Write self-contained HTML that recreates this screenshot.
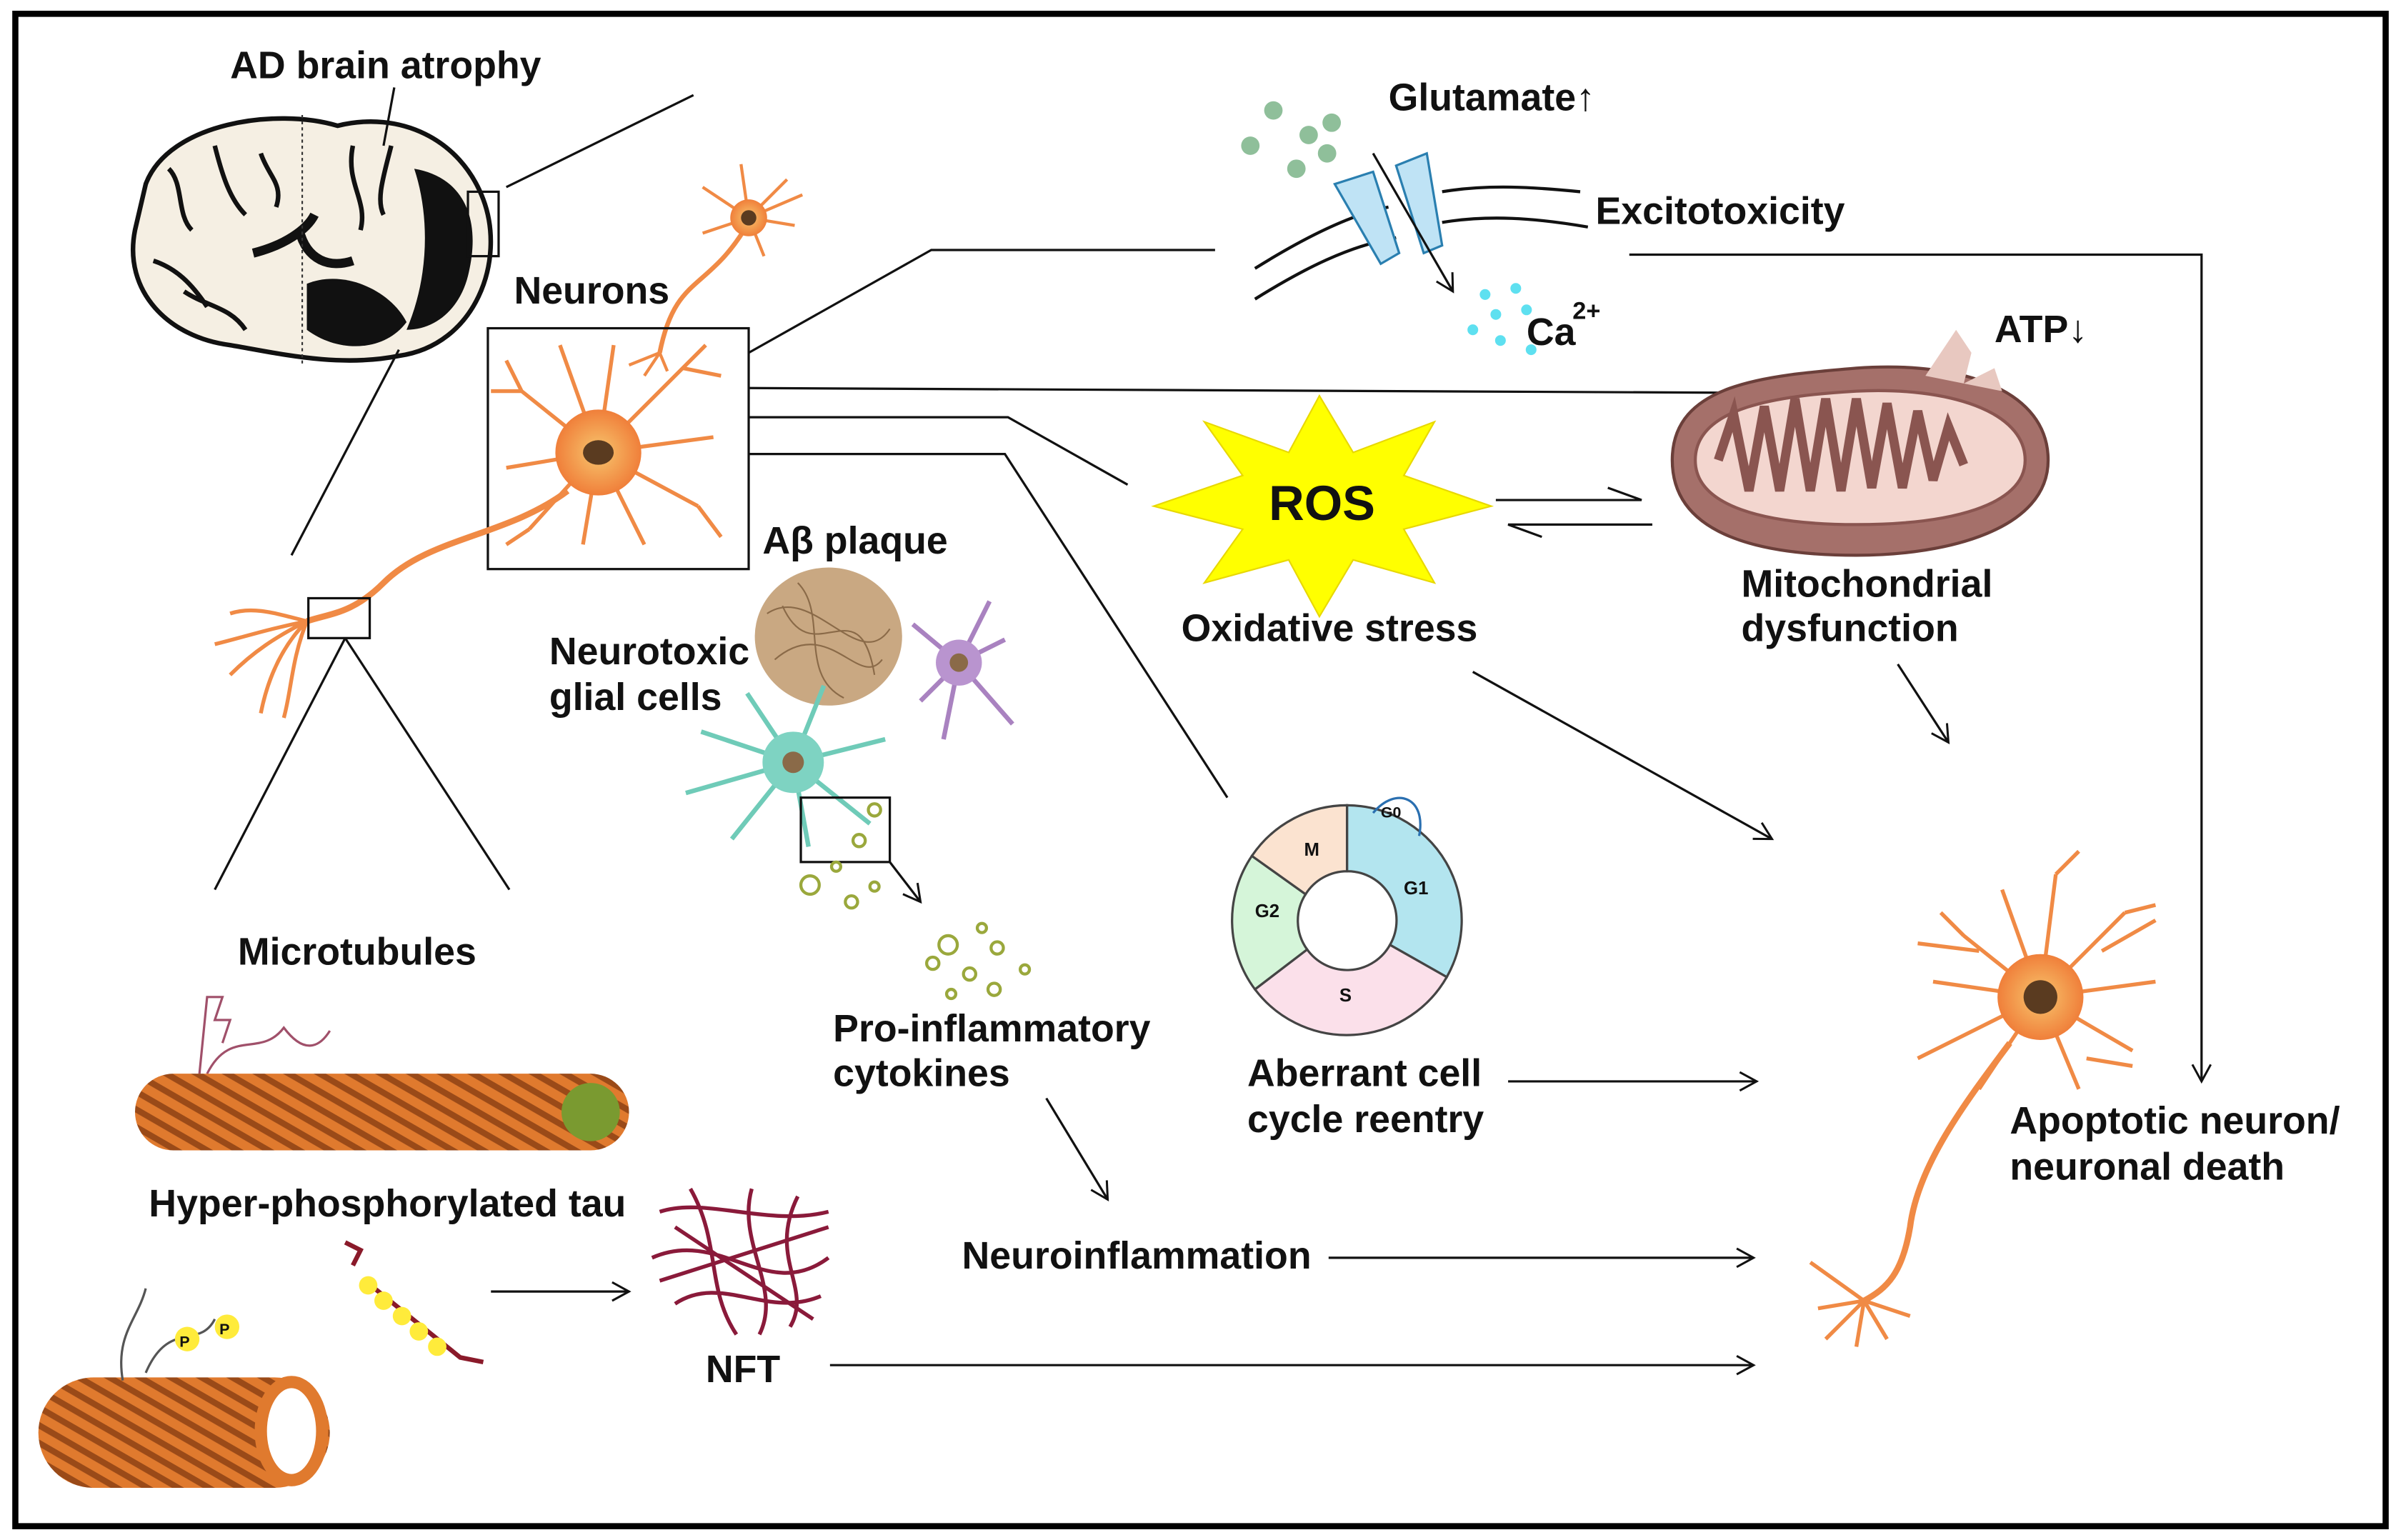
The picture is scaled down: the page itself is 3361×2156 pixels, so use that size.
<!DOCTYPE html>
<html><head><meta charset="utf-8"><style>
html,body{margin:0;padding:0;background:#fff;}
svg{display:block;}
text{font-family:"Liberation Sans",sans-serif;font-weight:bold;fill:#111;}
</style></head><body>
<svg width="3361" height="2156" viewBox="0 0 1565 1004" preserveAspectRatio="none" xmlns="http://www.w3.org/2000/svg">
<defs>
<marker id="ar" markerWidth="14" markerHeight="14" refX="12" refY="7" orient="auto" markerUnits="userSpaceOnUse">
<path d="M1,1 L12,7 L1,13" fill="none" stroke="#111" stroke-width="1.4"/></marker>
<pattern id="mt" width="10" height="10" patternUnits="userSpaceOnUse" patternTransform="rotate(30)">
<rect width="10" height="10" fill="#e07a2e"/><rect width="10" height="4" fill="#9a4a18"/></pattern>
<radialGradient id="soma"><stop offset="0" stop-color="#f7c66e"/><stop offset="1" stop-color="#f07f3a"/></radialGradient>
</defs>
<rect x="10" y="9" width="1545" height="986" fill="#fff" stroke="#000" stroke-width="4"/>

<!-- brain -->
<path d="M95,120 C110,80 180,70 220,82 C260,72 300,90 315,130 C330,170 310,225 260,232 C220,240 180,230 150,225 C110,220 80,190 88,150 Z" fill="#f5efe3" stroke="#111" stroke-width="3"/>
<path d="M195,150 C200,170 215,175 230,170 M165,165 C185,160 200,150 205,140" stroke="#111" stroke-width="6" fill="none"/>
<path d="M200,185 C225,175 255,190 265,210 C250,230 220,230 200,215 Z" fill="#111"/>
<path d="M270,110 C300,115 315,140 305,180 C300,200 285,215 265,215 C280,180 280,140 270,110Z" fill="#111"/>
<path d="M110,110 C120,120 115,140 125,150 M140,95 C145,115 150,130 160,140 M100,170 C115,175 125,185 135,200 M255,95 C250,115 245,130 250,140 M230,95 C225,120 240,130 235,150 M120,190 C135,200 150,200 160,215 M170,100 C175,115 185,120 180,135" stroke="#111" stroke-width="3" fill="none"/>
<line x1="197" y1="75" x2="197" y2="238" stroke="#333" stroke-dasharray="2,2"/>
<rect x="305" y="125" width="20" height="42" fill="none" stroke="#111" stroke-width="1.5"/>
<text x="150" y="51" font-size="25">AD brain atrophy</text>
<line x1="257" y1="57" x2="250" y2="95" stroke="#111" stroke-width="1.5"/>
<line x1="330" y1="122" x2="452" y2="62" stroke="#111" stroke-width="1.5"/>
<line x1="260" y1="228" x2="190" y2="362" stroke="#111" stroke-width="1.5"/>

<!-- small neuron top -->
<g stroke="#f08a45" stroke-width="2" fill="none">
<path d="M488,142 l-30,-20 M488,142 l25,-25 M488,142 l30,5 M488,142 l-30,10 M488,142 l10,25 M488,142 l-5,-35 M488,142 l35,-15"/>
<path d="M485,150 C460,190 440,180 430,230" stroke-width="3"/>
<path d="M430,230 l-20,8 M430,230 l5,12 M430,230 l-10,15"/>
</g>
<circle cx="488" cy="142" r="12" fill="url(#soma)"/><circle cx="488" cy="142" r="5" fill="#5a3b20"/>

<!-- neuron box -->
<rect x="318" y="214" width="170" height="157" fill="none" stroke="#111" stroke-width="1.5"/>
<text x="335" y="198" font-size="25">Neurons</text>
<g stroke="#f08a45" stroke-width="2.5" fill="none">
<path d="M390,295 l-50,-40 M390,295 l-60,10 M390,295 l-45,50 M390,295 l-10,60 M390,295 l30,60 M390,295 l65,35 M390,295 l75,-10 M390,295 l55,-55 M390,295 l10,-70 M390,295 l-25,-70 M340,255 l-10,-20 M340,255 l-20,0 M445,240 l15,-15 M445,240 l25,5 M455,330 l15,20 M345,345 l-15,10"/>
<path d="M370,320 C330,350 280,350 250,380 C230,400 215,400 200,405" stroke-width="4"/>
<path d="M200,405 C180,400 165,395 150,400 M200,405 C180,415 165,425 150,440 M200,405 C185,420 175,440 170,465 M200,405 C190,430 190,450 185,468 M200,405 C175,410 160,415 140,420"/>
</g>
<circle cx="390" cy="295" r="28" fill="url(#soma)"/><ellipse cx="390" cy="295" rx="10" ry="8" fill="#5a3b20"/>
<rect x="201" y="390" width="40" height="26" fill="none" stroke="#111" stroke-width="1.5"/>
<line x1="225" y1="416" x2="140" y2="580" stroke="#111" stroke-width="1.5"/>
<line x1="225" y1="416" x2="332" y2="580" stroke="#111" stroke-width="1.5"/>

<!-- connectors -->
<g stroke="#111" stroke-width="1.5" fill="none">
<polyline points="488,230 607,163 792,163"/>
<polyline points="488,253 1120,256"/>
<polyline points="488,272 657,272 735,316"/>
<polyline points="488,296 655,296 800,520"/>
<polyline points="1062,166 1435,166 1435,705" marker-end="url(#ar)"/>
<line x1="960" y1="438" x2="1155" y2="547" marker-end="url(#ar)"/>
<line x1="1237" y1="433" x2="1270" y2="484" marker-end="url(#ar)"/>
<line x1="983" y1="705" x2="1145" y2="705" marker-end="url(#ar)"/>
<line x1="866" y1="820" x2="1143" y2="820" marker-end="url(#ar)"/>
<line x1="541" y1="890" x2="1143" y2="890" marker-end="url(#ar)"/>
<line x1="320" y1="842" x2="410" y2="842" marker-end="url(#ar)"/>
<line x1="682" y1="716" x2="722" y2="782" marker-end="url(#ar)"/>
<line x1="580" y1="562" x2="600" y2="588" marker-end="url(#ar)"/>
<polyline points="975,326 1070,326 1048,318"/>
<polyline points="1077,342 983,342 1005,350"/>
</g>

<!-- glutamate -->
<g fill="#8fbf9a"><circle cx="830" cy="72" r="6"/><circle cx="853" cy="88" r="6"/><circle cx="868" cy="80" r="6"/><circle cx="815" cy="95" r="6"/><circle cx="845" cy="110" r="6"/><circle cx="865" cy="100" r="6"/></g>
<g stroke="#111" stroke-width="2" fill="none">
<path d="M818,175 C850,155 880,140 905,135"/><path d="M818,195 C850,175 880,160 910,155"/>
<path d="M940,125 C970,120 1000,122 1030,125"/><path d="M940,145 C970,140 1000,142 1035,148"/>
</g>
<path d="M870,120 L895,112 L912,165 L900,172 Z" fill="#bfe3f5" stroke="#2a7fb0" stroke-width="1.5"/>
<path d="M910,108 L930,100 L940,160 L928,165 Z" fill="#bfe3f5" stroke="#2a7fb0" stroke-width="1.5"/>
<line x1="895" y1="100" x2="947" y2="190" stroke="#111" stroke-width="1.5" marker-end="url(#ar)"/>
<g fill="#5ee0f0"><circle cx="968" cy="192" r="3.5"/><circle cx="988" cy="188" r="3.5"/><circle cx="975" cy="205" r="3.5"/><circle cx="960" cy="215" r="3.5"/><circle cx="978" cy="222" r="3.5"/><circle cx="998" cy="228" r="3.5"/><circle cx="995" cy="202" r="3.5"/></g>
<text x="905" y="72" font-size="25">Glutamate↑</text>
<text x="1040" y="146" font-size="25">Excitotoxicity</text>
<text x="995" y="225" font-size="25">Ca</text><text x="1025" y="208" font-size="16">2+</text>

<!-- ROS -->
<polygon points="860,258 882,295 935,275 915,310 972,330 915,345 935,380 882,365 860,402 840,365 785,380 810,345 752,330 810,310 785,275 840,295" fill="#ffff00" stroke="#e8d800" stroke-width="1"/>
<text x="827" y="339" font-size="32">ROS</text>
<text x="770" y="418" font-size="25">Oxidative stress</text>

<!-- mitochondrion -->
<path d="M1090,300 C1090,250 1150,245 1210,240 C1280,235 1335,255 1335,300 C1335,345 1270,362 1210,362 C1150,362 1090,350 1090,300 Z" fill="#a5706a" stroke="#6b3f3a" stroke-width="2"/>
<path d="M1105,300 C1105,265 1160,258 1210,255 C1270,252 1320,268 1320,300 C1320,330 1270,342 1210,342 C1150,342 1105,330 1105,300Z" fill="#f3d6cf" stroke="#8a5550" stroke-width="2"/>
<path d="M1120,300 l10,-30 l10,50 l10,-55 l10,55 l10,-60 l10,60 l10,-60 l10,60 l10,-60 l10,58 l10,-55 l10,55 l10,-50 l10,45 l10,-35 l10,25" stroke="#8a5550" stroke-width="6" fill="none"/>
<path d="M1255,245 L1275,215 L1285,230 L1280,250 L1300,240 L1305,255 Z" fill="#e8c8c0"/>
<text x="1300" y="223" font-size="25">ATP↓</text>
<text x="1135" y="389" font-size="25">Mitochondrial</text>
<text x="1135" y="418" font-size="25">dysfunction</text>

<!-- plaque & glia -->
<ellipse cx="540" cy="415" rx="48" ry="45" fill="#c9a882"/>
<g stroke="#8a6a48" stroke-width="1" fill="none"><path d="M500,400 C530,380 560,440 580,410 M505,430 C540,400 560,450 575,430 M510,395 C530,440 560,380 570,440 M520,380 C540,400 520,440 550,455"/></g>
<g stroke="#a982c0" stroke-width="3" fill="none"><path d="M625,432 l-30,-25 M625,432 l20,-40 M625,432 l30,-15 M625,432 l-10,50 M625,432 l35,40 M625,432 l-25,25"/></g>
<circle cx="625" cy="432" r="15" fill="#b994cf"/><circle cx="625" cy="432" r="6" fill="#8a6a48"/>
<g stroke="#6fcbb8" stroke-width="3" fill="none"><path d="M517,497 l-60,-20 M517,497 l-70,20 M517,497 l-40,50 M517,497 l10,55 M517,497 l50,40 M517,497 l60,-15 M517,497 l20,-50 M517,497 l-30,-45"/></g>
<circle cx="517" cy="497" r="20" fill="#7ed3c2"/><circle cx="517" cy="497" r="7" fill="#8a6a48"/>
<rect x="522" y="520" width="58" height="42" fill="none" stroke="#111" stroke-width="1.5"/>
<g fill="none" stroke="#9aa83c" stroke-width="2"><circle cx="528" cy="577" r="6"/><circle cx="545" cy="565" r="3"/><circle cx="560" cy="548" r="4"/><circle cx="570" cy="528" r="4"/><circle cx="555" cy="588" r="4"/><circle cx="570" cy="578" r="3"/><circle cx="618" cy="616" r="6"/><circle cx="608" cy="628" r="4"/><circle cx="632" cy="635" r="4"/><circle cx="650" cy="618" r="4"/><circle cx="648" cy="645" r="4"/><circle cx="668" cy="632" r="3"/><circle cx="620" cy="648" r="3"/><circle cx="640" cy="605" r="3"/></g>
<text x="497" y="361" font-size="25">Aβ plaque</text>
<text x="358" y="433" font-size="25">Neurotoxic</text>
<text x="358" y="463" font-size="25">glial cells</text>
<text x="543" y="679" font-size="25">Pro-inflammatory</text>
<text x="543" y="708" font-size="25">cytokines</text>

<!-- cell cycle -->
<g stroke="#444" stroke-width="1.5">
<path d="M878,525 A75,75 0 0,1 943,637 L906,616 A32,32 0 0,0 878,568 Z" fill="#b3e5ef"/>
<path d="M943,637 A75,75 0 0,1 818,645 L852,619 A32,32 0 0,0 906,616 Z" fill="#fbe0ea"/>
<path d="M818,645 A75,75 0 0,1 816,558 L851,583 A32,32 0 0,0 852,619 Z" fill="#d5f5d9"/>
<path d="M816,558 A75,75 0 0,1 878,525 L878,568 A32,32 0 0,0 851,583 Z" fill="#fbe3d0"/>
</g>
<path d="M895,530 C910,512 930,520 925,545" stroke="#2a6fb0" stroke-width="1.5" fill="none"/>
<text x="900" y="533" font-size="10">G0</text>
<text x="850" y="558" font-size="12">M</text>
<text x="915" y="583" font-size="12">G1</text>
<text x="818" y="598" font-size="12">G2</text>
<text x="873" y="653" font-size="12">S</text>
<text x="813" y="708" font-size="25">Aberrant cell</text>
<text x="813" y="738" font-size="25">cycle reentry</text>

<!-- apoptotic neuron -->
<g stroke="#f08a45" stroke-width="2.5" fill="none">
<path d="M1330,650 l-50,-40 M1330,650 l-70,-10 M1330,650 l-60,30 M1330,650 l-40,60 M1330,650 l25,60 M1330,650 l60,35 M1330,650 l75,-10 M1330,650 l55,-55 M1330,650 l10,-80 M1330,650 l-25,-70 M1280,610 l-15,-15 M1270,680 l-20,10 M1385,595 l20,-5 M1340,570 l15,-15 M1290,620 l-40,-5 M1370,620 l35,-20 M1360,690 l30,5"/>
<path d="M1310,680 C1280,720 1250,760 1245,800 C1240,830 1230,840 1215,848" stroke-width="4"/>
<path d="M1215,848 l-35,-25 M1215,848 l-30,5 M1215,848 l-25,25 M1215,848 l-5,30 M1215,848 l15,25 M1215,848 l30,10"/>
</g>
<circle cx="1330" cy="650" r="28" fill="url(#soma)"/><circle cx="1330" cy="650" r="11" fill="#5a3b20"/>
<text x="1310" y="739" font-size="25">Apoptotic neuron/</text>
<text x="1310" y="769" font-size="25">neuronal death</text>

<!-- microtubules -->
<text x="155" y="629" font-size="25">Microtubules</text>
<path d="M130,700 l5,-50 l10,0 l-5,15 l10,0 l-5,15 M135,700 C150,670 170,690 185,670 C200,690 210,680 215,672" stroke="#a0506a" stroke-width="1.5" fill="none"/>
<rect x="88" y="700" width="322" height="50" rx="25" fill="url(#mt)"/>
<circle cx="385" cy="725" r="19" fill="#7a9a30"/>
<text x="97" y="793" font-size="25">Hyper-phosphorylated tau</text>
<rect x="25" y="898" width="190" height="72" rx="36" fill="url(#mt)"/>
<ellipse cx="190" cy="933" rx="20" ry="32" fill="#fff" stroke="#e07a2e" stroke-width="8"/>
<path d="M80,900 C75,870 90,860 95,840 M95,895 C110,860 130,880 140,860" stroke="#555" stroke-width="1.5" fill="none"/>
<circle cx="122" cy="873" r="8" fill="#ffeb3b"/><circle cx="148" cy="865" r="8" fill="#ffeb3b"/>
<text x="117" y="878" font-size="10">P</text><text x="143" y="870" font-size="10">P</text>
<path d="M230,825 l5,-10 l-10,-5 M238,835 L300,885 L315,888" stroke="#8a1a2a" stroke-width="3" fill="none"/>
<g fill="#ffeb3b"><circle cx="240" cy="838" r="6"/><circle cx="250" cy="848" r="6"/><circle cx="262" cy="858" r="6"/><circle cx="273" cy="868" r="6"/><circle cx="285" cy="878" r="6"/></g>
<!-- NFT -->
<g stroke="#8a1a3a" stroke-width="2.5" fill="none">
<path d="M430,790 C460,780 500,800 540,790 M425,820 C470,800 500,850 540,820 M440,850 C470,830 500,860 535,845 M450,775 C470,810 460,840 480,870 M490,775 C480,810 510,840 495,870 M520,780 C500,820 530,840 515,865 M430,835 L540,800 M440,800 L530,860"/>
</g>
<text x="460" y="901" font-size="25">NFT</text>
<text x="627" y="827" font-size="25">Neuroinflammation</text>
</svg>
</body></html>
